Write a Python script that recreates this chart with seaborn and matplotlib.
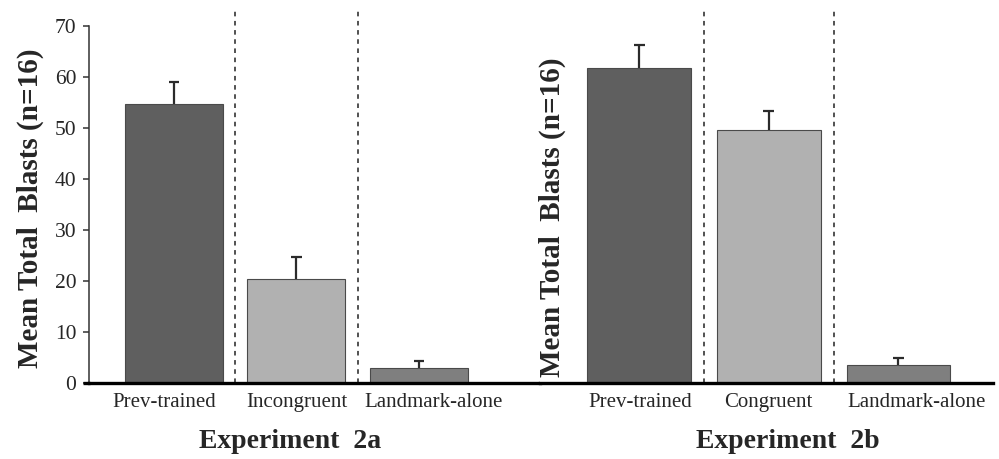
import matplotlib
matplotlib.use("Agg")
import matplotlib.pyplot as plt
from matplotlib.lines import Line2D
from matplotlib.transforms import ScaledTranslation
import seaborn as sns
import pandas as pd
import numpy as np

# Experiment 2a
exp_a_conditions = ["Prev-trained", "Incongruent", "Landmark-alone"]
exp_a_means = [54.8, 20.3, 2.9]
exp_a_sem = [4.2, 4.4, 1.4]

# Experiment 2b
exp_b_conditions = ["Prev-trained", "Congruent", "Landmark-alone"]
exp_b_means = [61.8, 49.6, 3.5]
exp_b_sem = [4.5, 3.7, 1.4]

y_ticks = [0, 10, 20, 30, 40, 50, 60, 70]
bar_colors = ["#5f5f5f", "#b1b1b1", "#7f7f7f"]

sns.set_style("white")
plt.rcParams["font.family"] = ["Liberation Serif", "DejaVu Serif"]

W, H = 999, 459
fig = plt.figure(figsize=(W / 100, H / 100), dpi=100)

y0_px, y70_px = 383, 26


def panel(left_px, right_px, xlim, conditions, means, sem, title, title_x_px,
          ylabel_x_px, ylabel_y_px, show_yaxis, dash_top, label_shift_px):
    ax = fig.add_axes([left_px / W, (H - y0_px) / H,
                       (right_px - left_px) / W, (y0_px - y70_px) / H])
    df = pd.DataFrame({"condition": conditions, "mean": means})
    sns.barplot(data=df, x="condition", y="mean", hue="condition",
                palette=bar_colors, order=conditions, hue_order=conditions,
                errorbar=None, width=0.8, edgecolor="#4a4a4a", linewidth=0.8,
                legend=False, ax=ax)
    # upper half of the standard-error bars, capped only at the top
    xs = np.arange(len(conditions))
    tops = np.asarray(means) + np.asarray(sem)
    ax.vlines(xs, means, tops, color="#2b2b2b", lw=1.6, zorder=3)
    ax.hlines(tops, xs - 0.042, xs + 0.042, color="#2b2b2b", lw=1.6, zorder=3)
    # separators between conditions
    for xv in (0.5, 1.5):
        ax.plot([xv, xv], [0, dash_top], ls=(0, (3, 3)), color="#222222",
                lw=1.1, clip_on=False, zorder=1)
    ax.set_xlim(*xlim)
    ax.set_ylim(0, 70)
    ax.set_xlabel("")
    ax.set_ylabel("")
    for s in ("top", "right"):
        ax.spines[s].set_visible(False)
    ax.spines["bottom"].set_linewidth(2.4)
    ax.spines["bottom"].set_color("black")
    ax.spines["bottom"].set_zorder(5)
    ax.tick_params(axis="x", length=0, pad=7, labelsize=15)
    # nudge the category names sideways
    for lab, dx in zip(ax.get_xticklabels(), label_shift_px):
        lab.set_transform(lab.get_transform()
                          + ScaledTranslation(dx / 100, 0, fig.dpi_scale_trans))
    if show_yaxis:
        ax.spines["left"].set_linewidth(1.1)
        ax.spines["left"].set_color("#333333")
        ax.set_yticks(y_ticks)
        ax.tick_params(axis="y", length=4, width=1.1, color="#333333",
                       pad=5, labelsize=15.5, left=True)
    else:
        ax.spines["left"].set_visible(False)
        ax.set_yticks([])
    fig.text(ylabel_x_px / W, (H - ylabel_y_px) / H, "Mean Total  Blasts (n=16)",
             rotation=90, ha="center", va="center", fontsize=21,
             fontweight="bold")
    fig.text(title_x_px / W, (H - 441) / H, title, ha="center", va="center",
             fontsize=20, fontweight="bold")
    return ax


panel(89, 540, (-0.694, 2.99), exp_a_conditions, exp_a_means, exp_a_sem,
      "Experiment  2a", 290, 30, 208, True, 73.3, [-10, 0, 15])
panel(540, 993, (-0.765, 2.73), exp_b_conditions, exp_b_means, exp_b_sem,
      "Experiment  2b", 788, 552, 217, False, 72.9, [1, 0, 18])

# baseline continues a few pixels left of the y axis
fig.add_artist(Line2D([83 / W, 90 / W], [(H - y0_px) / H] * 2,
                      color="black", lw=2.4, solid_capstyle="butt"))

fig.savefig("out.png", dpi=100, facecolor="white")
